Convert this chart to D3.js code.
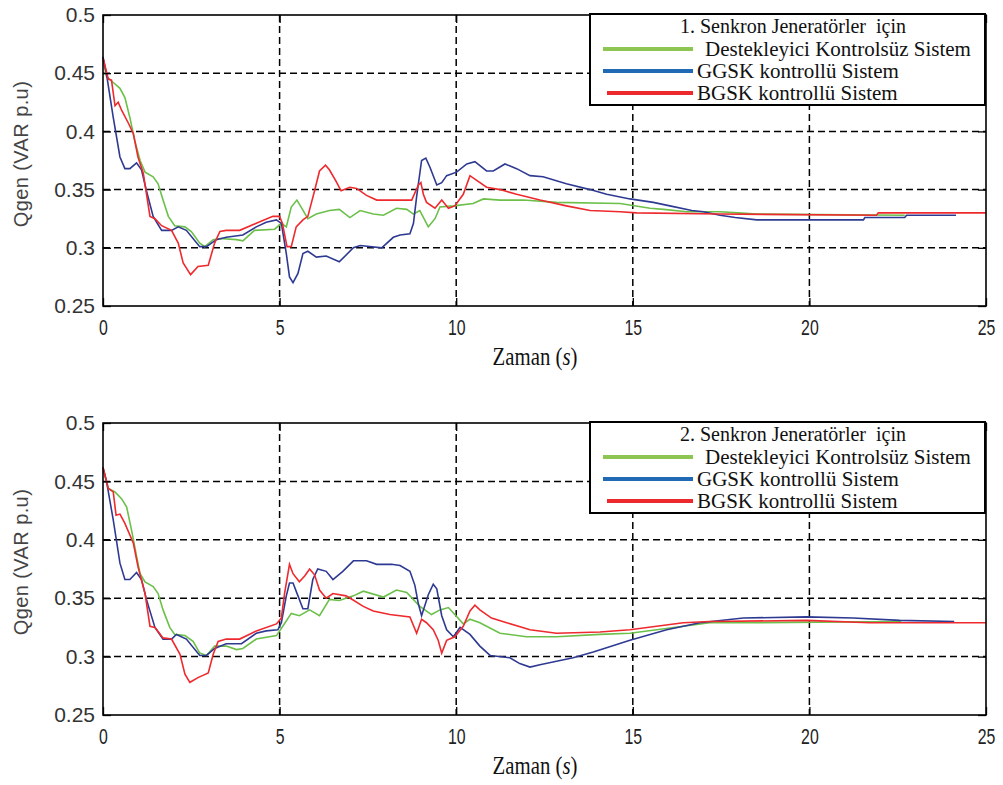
<!DOCTYPE html>
<html>
<head>
<meta charset="utf-8">
<script src="https://cdn.jsdelivr.net/npm/d3@7"></script>
<style>
  body { margin: 0; background: #fff; }
  svg { display: block; }
  text { white-space: pre; }
</style>
</head>
<body>
<div id="chart"></div>
<script>
// zaman ekseni ve Q ekseni
const xTicks = [0, 5, 10, 15, 20, 25];
const yTicks = [0.25, 0.3, 0.35, 0.4, 0.45, 0.5];

const legendNames = ["Destekleyici Kontrolsüz Sistem", "GGSK kontrollü Sistem", "BGSK kontrollü Sistem"];
const legendTitles = ["1. Senkron Jeneratörler  için", "2. Senkron Jeneratörler  için"];

// 1. jeneratör  [zaman, Qgen]
const gen1Kontrolsuz = [[0,0.462],[0.1,0.447],[0.29,0.442],[0.48,0.437],[0.62,0.429],[0.76,0.412],[0.9,0.392],[1.05,0.375],[1.19,0.365],[1.42,0.361],[1.56,0.355],[1.7,0.341],[1.85,0.327],[2.03,0.319],[2.32,0.318],[2.5,0.314],[2.74,0.304],[2.88,0.301],[3.12,0.307],[3.31,0.308],[3.78,0.307],[3.96,0.306],[4.29,0.315],[4.86,0.316],[5.05,0.321],[5.19,0.318],[5.33,0.335],[5.49,0.341],[5.61,0.335],[5.8,0.325],[6.04,0.329],[6.41,0.332],[6.69,0.333],[6.99,0.326],[7.28,0.332],[7.65,0.329],[7.94,0.328],[8.31,0.334],[8.6,0.333],[8.79,0.329],[8.97,0.332],[9.21,0.318],[9.4,0.325],[9.54,0.335],[9.92,0.336],[10.48,0.338],[10.77,0.342],[11.24,0.341],[11.9,0.341],[12.84,0.339],[14.64,0.338],[15.49,0.334],[15.87,0.333],[16.53,0.331],[17.47,0.331],[17.99,0.33],[18.51,0.329],[22.7,0.328]];
const gen1GGSK = [[0,0.464],[0.1,0.449],[0.29,0.412],[0.48,0.378],[0.62,0.368],[0.76,0.368],[0.95,0.373],[1.09,0.367],[1.23,0.349],[1.42,0.327],[1.66,0.315],[1.94,0.315],[2.13,0.318],[2.36,0.315],[2.74,0.301],[2.93,0.301],[3.21,0.307],[3.49,0.309],[3.96,0.311],[4.34,0.318],[4.62,0.322],[4.91,0.324],[5.05,0.321],[5.19,0.295],[5.28,0.275],[5.38,0.27],[5.52,0.278],[5.66,0.295],[5.8,0.297],[6.04,0.292],[6.32,0.293],[6.69,0.288],[7.09,0.3],[7.28,0.302],[7.89,0.3],[8.22,0.309],[8.41,0.311],[8.69,0.312],[8.79,0.321],[8.88,0.344],[9.02,0.375],[9.14,0.377],[9.26,0.369],[9.45,0.354],[9.59,0.356],[9.73,0.362],[10.01,0.365],[10.3,0.372],[10.53,0.374],[10.86,0.366],[11.05,0.366],[11.38,0.372],[11.71,0.368],[12.09,0.362],[12.46,0.361],[13.12,0.355],[13.79,0.35],[14.26,0.346],[14.92,0.342],[15.58,0.339],[16.05,0.336],[16.67,0.332],[17.0,0.331],[17.47,0.328],[17.9,0.326],[18.51,0.324],[21.53,0.324],[21.57,0.326],[22.7,0.326],[22.75,0.328],[24.15,0.328]];
const gen1BGSK = [[0,0.463],[0.15,0.445],[0.24,0.444],[0.34,0.422],[0.43,0.425],[0.53,0.418],[0.72,0.407],[0.86,0.398],[0.99,0.378],[1.14,0.364],[1.33,0.327],[1.47,0.325],[1.66,0.319],[1.94,0.315],[2.13,0.304],[2.27,0.287],[2.48,0.277],[2.69,0.284],[2.98,0.285],[3.16,0.304],[3.31,0.314],[3.49,0.315],[3.87,0.315],[4.34,0.321],[4.81,0.327],[5.0,0.327],[5.08,0.321],[5.21,0.301],[5.33,0.301],[5.47,0.318],[5.66,0.324],[5.8,0.327],[5.99,0.349],[6.13,0.366],[6.3,0.371],[6.41,0.367],[6.6,0.357],[6.74,0.349],[6.99,0.352],[7.18,0.351],[7.46,0.345],[7.75,0.341],[8.74,0.341],[8.93,0.354],[9.0,0.356],[9.07,0.346],[9.16,0.339],[9.4,0.334],[9.59,0.341],[9.78,0.334],[9.96,0.336],[10.2,0.346],[10.39,0.362],[10.58,0.358],[10.86,0.352],[11.24,0.35],[11.71,0.346],[12.37,0.341],[13.12,0.336],[13.79,0.332],[14.64,0.331],[15.11,0.33],[17.47,0.329],[21.9,0.328],[21.95,0.33],[25,0.33]];

// 2. jeneratör
const gen2Kontrolsuz = [[0,0.461],[0.15,0.444],[0.34,0.441],[0.53,0.435],[0.67,0.428],[0.81,0.408],[0.95,0.386],[1.05,0.371],[1.19,0.364],[1.42,0.36],[1.56,0.354],[1.7,0.34],[1.89,0.325],[2.03,0.319],[2.32,0.318],[2.55,0.313],[2.74,0.303],[2.93,0.301],[3.16,0.309],[3.49,0.309],[3.78,0.306],[3.96,0.307],[4.34,0.315],[4.91,0.318],[5.09,0.326],[5.33,0.337],[5.56,0.335],[5.85,0.34],[6.13,0.335],[6.41,0.349],[6.69,0.348],[7.09,0.352],[7.37,0.356],[7.94,0.351],[8.31,0.357],[8.6,0.355],[8.97,0.343],[9.3,0.336],[9.54,0.34],[9.78,0.342],[9.96,0.336],[10.2,0.328],[10.39,0.332],[10.67,0.329],[11.24,0.32],[11.99,0.317],[12.84,0.317],[14.07,0.319],[14.92,0.32],[16.43,0.326],[17.18,0.329],[18.17,0.329],[22.6,0.33]];
const gen2GGSK = [[0,0.462],[0.1,0.45],[0.29,0.417],[0.48,0.38],[0.62,0.366],[0.76,0.366],[0.95,0.372],[1.09,0.366],[1.23,0.349],[1.47,0.325],[1.7,0.315],[1.94,0.315],[2.08,0.319],[2.36,0.315],[2.74,0.301],[2.93,0.301],[3.16,0.307],[3.49,0.311],[3.92,0.311],[4.34,0.32],[4.62,0.322],[4.95,0.323],[5.05,0.329],[5.19,0.352],[5.28,0.363],[5.38,0.363],[5.52,0.352],[5.66,0.341],[5.8,0.341],[5.94,0.366],[6.08,0.375],[6.32,0.373],[6.51,0.366],[6.79,0.373],[7.09,0.382],[7.46,0.382],[7.75,0.379],[8.17,0.379],[8.41,0.378],[8.69,0.373],[8.83,0.361],[8.93,0.345],[9.02,0.335],[9.21,0.353],[9.35,0.362],[9.45,0.358],[9.59,0.335],[9.73,0.323],[9.92,0.317],[10.11,0.325],[10.39,0.319],[10.67,0.309],[10.96,0.301],[11.52,0.299],[11.8,0.294],[12.09,0.291],[12.37,0.293],[13.31,0.299],[13.88,0.304],[14.92,0.314],[15.96,0.323],[16.9,0.329],[18.13,0.333],[19.92,0.334],[21.24,0.333],[22.56,0.331],[24.1,0.33]];
const gen2BGSK = [[0,0.462],[0.15,0.444],[0.29,0.441],[0.37,0.421],[0.48,0.422],[0.62,0.414],[0.86,0.397],[0.99,0.377],[1.19,0.354],[1.33,0.326],[1.47,0.325],[1.7,0.316],[1.94,0.315],[2.18,0.302],[2.32,0.285],[2.46,0.278],[2.69,0.282],[2.98,0.286],[3.12,0.302],[3.26,0.313],[3.49,0.315],[3.87,0.315],[4.34,0.322],[4.91,0.328],[5.05,0.333],[5.14,0.354],[5.28,0.379],[5.38,0.371],[5.56,0.364],[5.71,0.369],[5.85,0.375],[5.99,0.37],[6.13,0.357],[6.32,0.35],[6.51,0.354],[6.88,0.352],[7.0,0.35],[7.37,0.343],[7.65,0.339],[8.12,0.336],[8.69,0.334],[8.88,0.32],[9.02,0.332],[9.16,0.329],[9.35,0.323],[9.49,0.314],[9.59,0.303],[9.73,0.314],[9.96,0.317],[10.2,0.326],[10.39,0.339],[10.53,0.344],[10.67,0.34],[11.0,0.333],[11.43,0.329],[12.09,0.323],[12.84,0.32],[14.07,0.321],[14.92,0.323],[16.43,0.329],[17.18,0.33],[19.92,0.331],[21.71,0.329],[25,0.329]];

const width = 1003, height = 785;
const lineColors = ["#6cc04a", "#2e3a92", "#ee2a2e"];     // grafikteki renkler
const legendColors = ["#8cc552", "#1f6ab2", "#ec2a2e"];   // lejanttaki renkler

const svg = d3.select("#chart").append("svg")
  .attr("width", width)
  .attr("height", height);

function drawPanel(top, bottom, series, title) {
  const left = 103, right = 986;
  const x = d3.scaleLinear().domain([0, 25]).range([left, right]);
  const y = d3.scaleLinear().domain([0.25, 0.5]).range([bottom, top]);
  const g = svg.append("g");

  // kesikli ızgara
  g.selectAll(".gx").data(xTicks.slice(1, -1)).enter().append("line")
    .attr("x1", d => x(d)).attr("x2", d => x(d))
    .attr("y1", top).attr("y2", bottom)
    .attr("stroke", "#000").attr("stroke-width", 1.5).attr("stroke-dasharray", "7,4");
  g.selectAll(".gy").data(yTicks.slice(1, -1)).enter().append("line")
    .attr("x1", left).attr("x2", right)
    .attr("y1", d => y(d)).attr("y2", d => y(d))
    .attr("stroke", "#000").attr("stroke-width", 1.5).attr("stroke-dasharray", "7,4");

  // eğriler
  const line = d3.line().x(d => x(d[0])).y(d => y(d[1]));
  series.forEach(function(s, i) {
    g.append("path")
      .datum(s)
      .attr("d", line)
      .attr("fill", "none")
      .attr("stroke", lineColors[i])
      .attr("stroke-width", 1.6);
  });

  // eksenler (içe bakan çentikler)
  const fmt = d => String(+d.toFixed(2));
  const xa = g.append("g").attr("transform", "translate(0," + bottom + ")")
    .call(d3.axisBottom(x).tickValues(xTicks).tickSize(-8).tickPadding(13).tickFormat(d3.format("d")));
  g.append("g").attr("transform", "translate(0," + top + ")")
    .call(d3.axisTop(x).tickValues(xTicks).tickSize(-8).tickFormat(""));
  const ya = g.append("g").attr("transform", "translate(" + left + ",0)")
    .call(d3.axisLeft(y).tickValues(yTicks).tickSize(-8).tickPadding(8).tickFormat(fmt));
  g.append("g").attr("transform", "translate(" + right + ",0)")
    .call(d3.axisRight(y).tickValues(yTicks).tickSize(-8).tickFormat(""));
  g.selectAll(".domain").remove();
  g.selectAll(".tick line").attr("stroke", "#000").attr("stroke-width", 1.3);

  xa.selectAll("text")
    .attr("font-family", "'Liberation Sans', Arial, sans-serif")
    .attr("font-size", 22).attr("fill", "#222")
    .attr("transform", "scale(0.72,1)");
  ya.selectAll("text")
    .attr("font-family", "'Liberation Sans', Arial, sans-serif")
    .attr("font-size", 21).attr("fill", "#333");

  g.append("rect")
    .attr("x", left).attr("y", top)
    .attr("width", right - left).attr("height", bottom - top)
    .attr("fill", "none").attr("stroke", "#000").attr("stroke-width", 1.6);

  // eksen başlıkları
  const xl = g.append("text")
    .attr("transform", "translate(535," + (bottom + 59) + ") scale(0.8,1)")
    .attr("text-anchor", "middle")
    .attr("font-family", "'Liberation Serif', 'Times New Roman', serif")
    .attr("font-size", 26).attr("fill", "#111");
  xl.append("tspan").text("Zaman (");
  xl.append("tspan").attr("font-style", "italic").text("s");
  xl.append("tspan").text(")");
  g.append("text")
    .attr("transform", "translate(28," + (top + 139) + ") rotate(-90)")
    .attr("text-anchor", "middle")
    .attr("font-family", "'Liberation Sans', Arial, sans-serif")
    .attr("font-size", 20).attr("letter-spacing", 0.4).attr("fill", "#444")
    .text("Qgen (VAR p.u)");

  // lejant
  const lg = g.append("g").attr("transform", "translate(590," + (top - 1) + ")");
  lg.append("rect")
    .attr("width", 395).attr("height", 91)
    .attr("fill", "#fff").attr("stroke", "#000").attr("stroke-width", 2);
  lg.append("text")
    .attr("x", 203).attr("y", 19)
    .attr("text-anchor", "middle")
    .attr("font-family", "'Liberation Serif', 'Times New Roman', serif")
    .attr("font-size", 20).attr("fill", "#111")
    .text(title);
  const rows = [{ y: 35, tx: 115, ty: 42 }, { y: 57, tx: 107, ty: 64 }, { y: 79, tx: 107, ty: 86 }];
  rows.forEach(function(r, i) {
    lg.append("line")
      .attr("x1", i == 2 ? 17 : 13).attr("x2", 103)
      .attr("y1", r.y).attr("y2", r.y)
      .attr("stroke", legendColors[i]).attr("stroke-width", 4);
    lg.append("text")
      .attr("x", r.tx).attr("y", r.ty)
      .attr("font-family", "'Liberation Serif', 'Times New Roman', serif")
      .attr("font-size", 21).attr("fill", "#111")
      .text(legendNames[i]);
  });
}

drawPanel(15, 306, [gen1Kontrolsuz, gen1GGSK, gen1BGSK], legendTitles[0]);
drawPanel(423, 715, [gen2Kontrolsuz, gen2GGSK, gen2BGSK], legendTitles[1]);
</script>
</body>
</html>
